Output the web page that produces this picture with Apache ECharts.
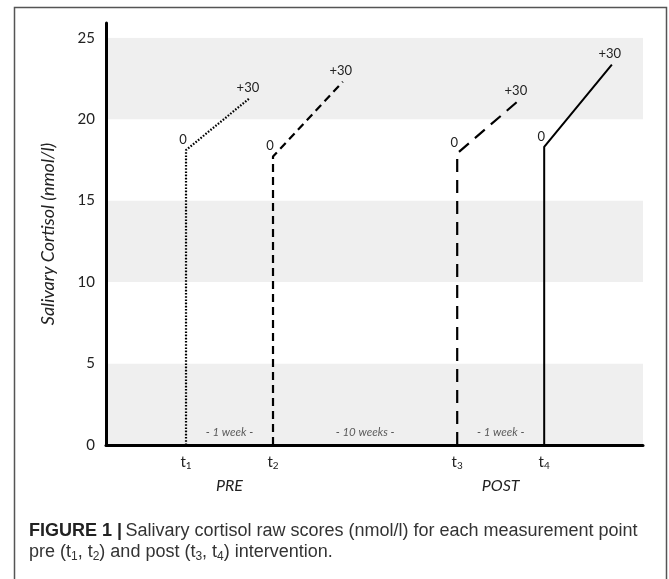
<!DOCTYPE html>
<html>
<head>
<meta charset="utf-8">
<script src="https://cdn.jsdelivr.net/npm/echarts@6/dist/echarts.min.js"></script>
<style>
  html, body { margin: 0; padding: 0; background: #fff; }
  #chart { width: 669px; height: 579px; }
</style>
</head>
<body>
<div id="chart"></div>
<script>
// measurement points (x in arbitrary position units 0-100)
const timeNums = ['1', '2', '3', '4'];
const timeX = [14.9, 31.1, 65.4, 81.6];
const plus30X = [26.8, 44.1, 76.7, 94.2];
const baseline = [18.1, 17.7, 17.9, 18.3];
const plus30 = [21.3, 22.3, 21.1, 23.35];
const gapLabels = ['- 1 week -', '- 10 weeks -', '- 1 week -'];
const gapY = 0.75;
const phaseLabels = ['PRE', 'POST'];
const yTicks = [0, 5, 10, 15, 20, 25];

const chartFont = 'Lato';
const gapX = [0, 1, 2].map(i => (timeX[i] + timeX[i + 1]) / 2);
const phaseX = [(timeX[0] + timeX[1]) / 2, (timeX[2] + timeX[3]) / 2];

// line look per measurement point: dotted, dashed, long dashed, solid
const lineLooks = [
  { type: [1.6, 1.6], width: 2.2 },
  { type: [8, 5], width: 2.2 },
  { type: [13, 8], width: 2.2 },
  { type: 'solid', width: 2 }
];

const pointSeries = timeNums.map((n, i) => ({
  name: 't' + n,
  type: 'line',
  symbol: 'circle',
  symbolSize: 0,
  silent: true,
  lineStyle: { color: '#000', width: lineLooks[i].width, type: lineLooks[i].type, cap: 'butt' },
  label: {
    show: false,
    position: 'top',
    distance: 4,
    fontFamily: chartFont,
    fontSize: 13,
    color: '#222'
  },
  data: [
    [timeX[i], 0],
    { value: [timeX[i], baseline[i]], label: { show: true, formatter: '0', offset: [-3, 0] } },
    { value: [plus30X[i], plus30[i]], label: { show: true, formatter: '+30', offset: [-2, 0] } }
  ]
}));

const chart = echarts.init(document.getElementById('chart'));
chart.setOption({
  animation: false,
  grid: { left: 106, right: 26, top: 23, bottom: 134 },
  xAxis: [
    {
      type: 'value',
      min: 0,
      max: 100,
      axisLine: { show: true, onZero: false, lineStyle: { color: '#000', width: 3 } },
      axisTick: { show: false },
      splitLine: { show: false },
      axisLabel: {
        customValues: timeX,
        margin: 8,
        formatter: v => '{t|t}{s|' + timeNums[timeX.indexOf(v)] + '}',
        rich: {
          t: { fontFamily: chartFont, fontSize: 15, color: '#222', lineHeight: 18 },
          s: { fontFamily: chartFont, fontSize: 10, color: '#222', lineHeight: 10, verticalAlign: 'bottom' }
        }
      }
    },
    {
      type: 'value',
      min: 0,
      max: 100,
      position: 'bottom',
      axisLine: { show: false },
      axisTick: { show: false },
      splitLine: { show: false },
      axisLabel: {
        customValues: phaseX,
        margin: 33,
        fontFamily: chartFont,
        fontSize: 16,
        fontStyle: 'italic',
        color: '#222',
        formatter: v => phaseLabels[phaseX.indexOf(v)]
      }
    }
  ],
  yAxis: {
    type: 'value',
    min: 0,
    max: 25.9,
    interval: 5,
    name: 'Salivary Cortisol (nmol/l)',
    nameLocation: 'middle',
    nameGap: 49,
    nameTextStyle: { fontFamily: chartFont, fontSize: 18, fontStyle: 'italic', color: '#222' },
    axisLine: { show: true, lineStyle: { color: '#000', width: 3 } },
    axisTick: { show: false },
    splitLine: { show: false },
    splitArea: { show: true, areaStyle: { color: ['#efefef', '#ffffff'] } },
    axisLabel: {
      showMaxLabel: false,
      margin: 11,
      fontFamily: chartFont,
      fontSize: 15,
      color: '#222',
      formatter: v => (yTicks.indexOf(v) >= 0 ? String(v) : '')
    }
  },
  series: pointSeries.concat([
    {
      name: 'gaps',
      type: 'scatter',
      symbolSize: 0,
      silent: true,
      label: {
        show: true,
        position: 'inside',
        formatter: p => p.name,
        fontFamily: chartFont,
        fontSize: 11.5,
        fontStyle: 'italic',
        color: '#333'
      },
      data: gapLabels.map((g, i) => ({ name: g, value: [gapX[i], gapY] }))
    }
  ]),
  graphic: [
    {
      type: 'rect',
      shape: { x: 14.5, y: 7.5, width: 652, height: 600 },
      style: { fill: 'none', stroke: '#555', lineWidth: 1.5 },
      silent: true
    },
    {
      type: 'text',
      left: 29,
      top: 522,
      style: {
        text: '{b|FIGURE 1 |} {r|Salivary cortisol raw scores (nmol/l) for each measurement point}\n' +
              '{r|pre (t}{s|1}{r|, t}{s|2}{r|) and post (t}{s|3}{r|, t}{s|4}{r|) intervention.}',
        rich: {
          b: { fontFamily: 'Liberation Sans', fontSize: 18, fontWeight: 'bold', fill: '#222', lineHeight: 21 },
          r: { fontFamily: 'Liberation Sans', fontSize: 18, fill: '#333', lineHeight: 21 },
          s: { fontFamily: 'Liberation Sans', fontSize: 12, fill: '#333', lineHeight: 12, verticalAlign: 'bottom' }
        }
      }
    }
  ]
});
</script>
</body>
</html>
